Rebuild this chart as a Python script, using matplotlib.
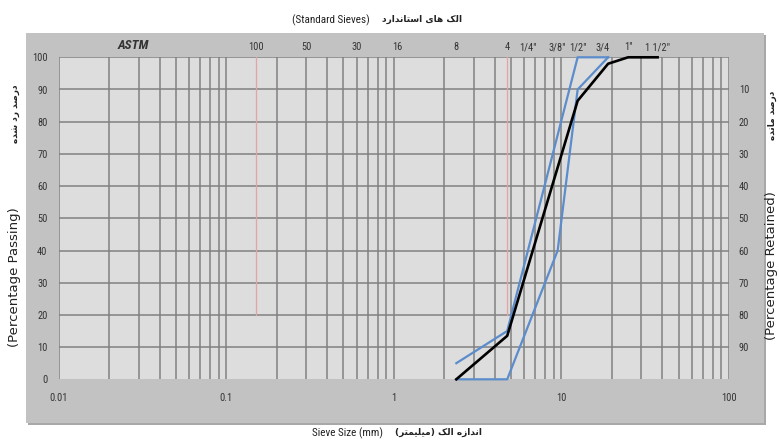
import matplotlib
matplotlib.use("Agg")
import matplotlib.pyplot as plt
from matplotlib.patches import Rectangle
from matplotlib.ticker import FixedLocator, NullFormatter
from matplotlib import font_manager

# ---------------- data ----------------
sample_size = [2.36, 4.75, 12.5, 19, 25, 37.5]
sample_pass = [0, 13.5, 86.5, 98, 100, 100]

upper_size = [2.36, 4.75, 12.5, 19]
upper_pass = [5, 15, 100, 100]

lower_size = [2.36, 4.75, 9.5, 12.5, 19]
lower_pass = [0, 0, 40, 90, 100]

red_size = [0.15, 4.75]
red_from, red_to = 20, 100

sieve_labels = ["100", "50", "30", "16", "8", "4", '1/4"', '3/8"', '1/2"', "3/4", '1"', '1 1/2"']
sieve_sizes = [0.15, 0.3, 0.6, 1.05, 2.36, 4.75, 6.3, 9.5, 12.5, 17.5, 25, 37.5]

x_ticks = [0.01, 0.1, 1, 10, 100]
x_tick_labels = ["0.01", "0.1", "1", "10", "100"]
y_left_ticks = list(range(0, 101, 10))
y_right_ticks = list(range(10, 100, 10))

# ---------------- simple Persian shaping ----------------
FORMS = {
    'ا': ('\uFE8D', '\uFE8E', None, None),
    'ب': ('\uFE8F', '\uFE90', '\uFE91', '\uFE92'),
    'ت': ('\uFE95', '\uFE96', '\uFE97', '\uFE98'),
    'د': ('\uFEA9', '\uFEAA', None, None),
    'ر': ('\uFEAD', '\uFEAE', None, None),
    'ز': ('\uFEAF', '\uFEB0', None, None),
    'س': ('\uFEB1', '\uFEB2', '\uFEB3', '\uFEB4'),
    'ش': ('\uFEB5', '\uFEB6', '\uFEB7', '\uFEB8'),
    'ص': ('\uFEB9', '\uFEBA', '\uFEBB', '\uFEBC'),
    'ل': ('\uFEDD', '\uFEDE', '\uFEDF', '\uFEE0'),
    'م': ('\uFEE1', '\uFEE2', '\uFEE3', '\uFEE4'),
    'ن': ('\uFEE5', '\uFEE6', '\uFEE7', '\uFEE8'),
    'ه': ('\uFEE9', '\uFEEA', '\uFEEB', '\uFEEC'),
    'ک': ('\uFB8E', '\uFB8F', '\uFB90', '\uFB91'),
    'ی': ('\uFBFC', '\uFBFD', '\uFBFE', '\uFBFF'),
}
RIGHT_ONLY = set('ادذرزژو')
MIRROR = {'(': ')', ')': '('}


def shape(s):
    out = []
    for i, ch in enumerate(s):
        if ch not in FORMS:
            out.append(MIRROR.get(ch, ch))
            continue
        prev = s[i - 1] if i > 0 else ''
        nxt = s[i + 1] if i + 1 < len(s) else ''
        jp = prev in FORMS and prev not in RIGHT_ONLY
        jn = nxt in FORMS and ch not in RIGHT_ONLY
        iso, fin, ini, med = FORMS[ch]
        if jp and jn:
            f = med
        elif jp:
            f = fin
        elif jn:
            f = ini
        else:
            f = iso
        out.append(f)
    return ''.join(reversed(out))


fa_top = shape("الک های استاندارد")
fa_bottom = shape("اندازه الک (میلیمتر)")
fa_left = shape("درصد رد شده")
fa_right = shape("درصد مانده")

# pick a narrow font if available
available = {f.name for f in font_manager.fontManager.ttflist}
narrow = None
for cand in ["Liberation Sans Narrow", "DejaVu Sans Condensed", "Roboto Condensed",
             "Open Sans Condensed", "Liberation Sans"]:
    if cand in available:
        narrow = cand
        break
tick_font = [narrow, "DejaVu Sans"]

# ---------------- figure ----------------
W, H = 779, 440
fig = plt.figure(figsize=(W / 100, H / 100), dpi=100)
fig.patch.set_facecolor("white")


def fx(px):
    return px / W


def fy(py):
    return 1 - py / H


# outer grey panel with slight shadow
fig.patches.append(Rectangle((fx(28), fy(425)), fx(764) - fx(26), fy(33) - fy(423),
                             transform=fig.transFigure, facecolor="#a8a8a8",
                             edgecolor="none", zorder=-10))
fig.patches.append(Rectangle((fx(26), fy(423)), fx(764) - fx(26), fy(33) - fy(423),
                             transform=fig.transFigure, facecolor="#c2c2c2",
                             edgecolor="none", zorder=-9))

L, R, T, B = 58.6, 729.0, 57.3, 379.3
ax = fig.add_axes([fx(L), fy(B), (R - L) / W, (B - T) / H])
ax.set_zorder(2)
ax.set_facecolor("#dddddd")
ax.set_xscale("log")
ax.set_xlim(0.01, 100)
ax.set_ylim(0, 100)
for s in ax.spines.values():
    s.set_visible(False)

grid_c = "#818181"
for dec in [0.01, 0.1, 1, 10]:
    for m in range(1, 10):
        ax.axvline(dec * m, color=grid_c, lw=1.1, zorder=1)
ax.axvline(100, color=grid_c, lw=1.1, zorder=1)
for yv in range(10, 101, 10):
    ax.axhline(yv, color=grid_c, lw=1.1, zorder=1)

for xs in red_size:
    ax.plot([xs, xs], [red_from, red_to], color="#e2a4a4", lw=0.9, zorder=2)

blue = "#5b8ccb"
ax.plot(upper_size, upper_pass, color=blue, lw=1.6, zorder=3, clip_on=False)
ax.plot(lower_size, lower_pass, color=blue, lw=1.6, zorder=3, clip_on=False)
ax.plot(sample_size, sample_pass, color="black", lw=1.9, zorder=4, clip_on=False)

ax.xaxis.set_major_locator(FixedLocator(x_ticks))
ax.xaxis.set_minor_formatter(NullFormatter())
ax.set_xticks(x_ticks)
ax.set_xticklabels(x_tick_labels, fontsize=7.5, family=tick_font, color="#333333")
ax.set_yticks(y_left_ticks)
ax.set_yticklabels([str(v) for v in y_left_ticks], fontsize=7.5, family=tick_font, color="#333333")
ax.tick_params(axis="x", which="both", length=0, pad=10)
ax.tick_params(axis="y", which="both", length=0, pad=8)

ax2 = ax.twinx()
ax2.set_zorder(3)
ax2.patch.set_visible(False)
ax2.set_ylim(100, 0)
for s in ax2.spines.values():
    s.set_visible(False)
ax2.set_yticks(y_right_ticks)
ax2.set_yticklabels([str(v) for v in y_right_ticks], fontsize=7.5, family=tick_font, color="#333333")
ax2.tick_params(axis="y", length=0, pad=7)

for lab, xs in zip(sieve_labels, sieve_sizes):
    ax.text(xs, 101.5, lab, ha="center", va="bottom", fontsize=7.5,
            family=tick_font, color="#333333", clip_on=False)
ax.text(0.028, 101.5, "ASTM", ha="center", va="bottom", fontsize=9.5,
        fontweight="bold", style="italic", family=tick_font,
        color="#333333", clip_on=False)

# titles / axis labels
fig.text(fx(370), fy(20), "(Standard Sieves)", ha="right", va="center",
         fontsize=8, family=tick_font, color="#222222")
fig.text(fx(382), fy(19), fa_top, ha="left", va="center", fontsize=6.5,
         fontweight="bold", family="DejaVu Sans", color="#222222")
fig.text(fx(383), fy(433), "Sieve Size (mm)", ha="right", va="center",
         fontsize=8, family=tick_font, color="#222222")
fig.text(fx(395), fy(432), fa_bottom, ha="left", va="center", fontsize=6.5,
         fontweight="bold", family="DejaVu Sans", color="#222222")

fig.text(fx(15), fy(347), "(Percentage Passing)", ha="center", va="bottom",
         rotation=90, fontsize=9.5, family="DejaVu Sans", color="#222222")
fig.text(fx(15), fy(143), fa_left, ha="center", va="bottom", rotation=90,
         fontsize=6.5, fontweight="bold", family="DejaVu Sans", color="#222222")
fig.text(fx(772), fy(340), "(Percentage Retained)", ha="center", va="bottom",
         rotation=90, fontsize=9.5, family="DejaVu Sans", color="#222222")
fig.text(fx(772), fy(140), fa_right, ha="center", va="bottom", rotation=90,
         fontsize=6.5, fontweight="bold", family="DejaVu Sans", color="#222222")

fig.savefig("out.png", dpi=100, facecolor="white")
